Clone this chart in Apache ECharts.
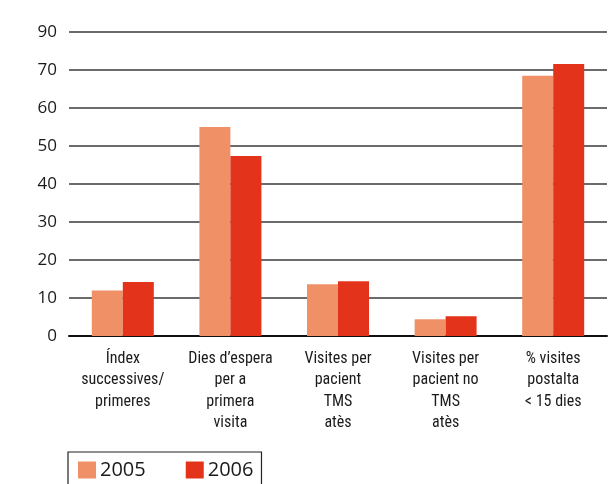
<!DOCTYPE html>
<html>
<head>
<meta charset="utf-8">
<script src="https://cdn.jsdelivr.net/npm/echarts@6/dist/echarts.min.js"></script>
<style>html,body{margin:0;padding:0;background:#fff}#c{width:609px;height:484px}</style>
</head>
<body>
<div id="c"></div>
<script>
var categories = ["Índex\nsuccessives/\nprimeres", "Dies d’espera\nper a\nprimera\nvisita", "Visites per\npacient\nTMS\natès", "Visites per\npacient no\nTMS\natès", "% visites\npostalta\n< 15 dies"];
var seriesNames = ["2005", "2006"];
var values2005 = [12.0, 55.0, 13.6, 4.4, 68.5];
var values2006 = [14.2, 47.4, 14.4, 5.2, 71.6];
var yTickLabels = ["0", "10", "20", "30", "40", "50", "60", "70", "90"];

var chart = echarts.init(document.getElementById('c'));
chart.setOption({
  animation: false,
  grid: { left: 69, right: 2, top: 32, bottom: 148 },
  legend: {
    left: 68, top: 452,
    data: seriesNames,
    itemWidth: 18, itemHeight: 17, itemGap: 40,
    icon: 'rect',
    borderColor: '#222', borderWidth: 1.2,
    padding: [8, 8, 14, 10],
    textStyle: { fontFamily: '"Open Sans", "Noto Sans", sans-serif', fontSize: 20, color: '#1a1a1a', padding: [0, 0, 0, -1] }
  },
  xAxis: {
    type: 'category',
    data: categories,
    axisTick: { show: false },
    axisLine: { lineStyle: { color: '#111', width: 2 } },
    axisLabel: {
      interval: 0, margin: 12,
      fontFamily: '"Liberation Sans Narrow", "Roboto Condensed", Roboto, sans-serif',
      fontSize: 16, lineHeight: 21.5, color: '#1a1a1a'
    }
  },
  yAxis: {
    type: 'value', min: 0, max: 80, interval: 10,
    axisLine: { show: false }, axisTick: { show: false },
    splitLine: { lineStyle: { color: '#3a3a3a', width: 1.5 } },
    axisLabel: {
      margin: 12,
      fontFamily: '"Open Sans", "Noto Sans", sans-serif', fontSize: 17, color: '#1a1a1a',
      formatter: function (v) { return yTickLabels[Math.round(v / 10)]; }
    }
  },
  series: [
    { name: seriesNames[0], type: 'bar', data: values2005, barWidth: 31, barGap: '0%', itemStyle: { color: '#EF9067' } },
    { name: seriesNames[1], type: 'bar', data: values2006, barWidth: 31, barGap: '0%', itemStyle: { color: '#E3341B' } }
  ]
});
</script>
</body>
</html>
